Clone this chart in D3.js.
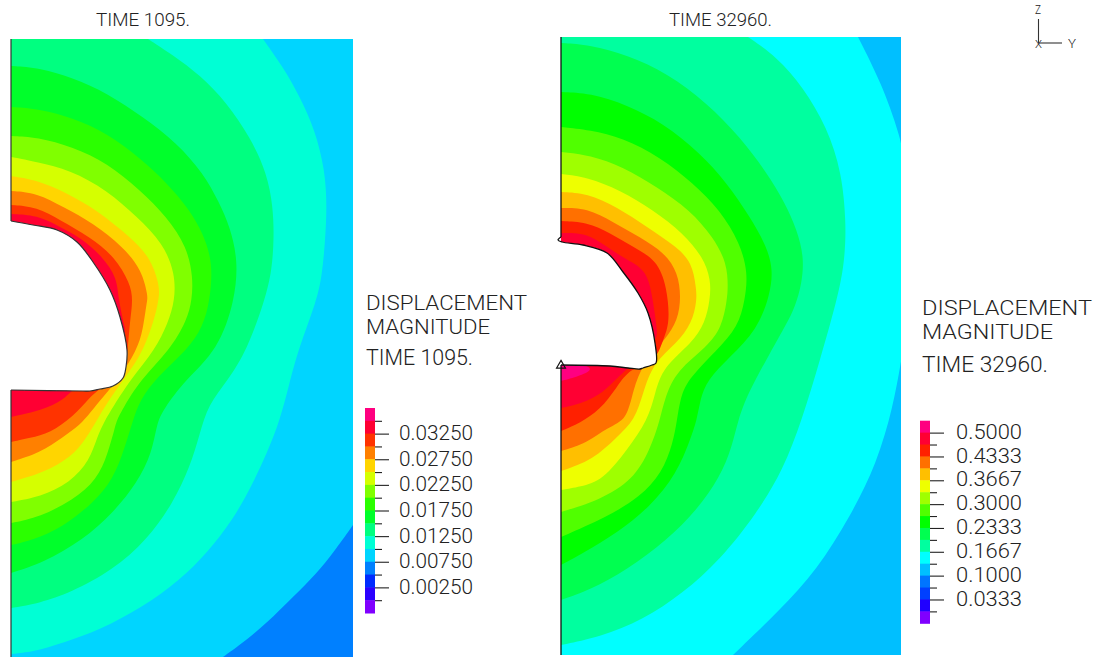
<!DOCTYPE html>
<html><head><meta charset="utf-8">
<script src="https://cdnjs.cloudflare.com/ajax/libs/d3/7.8.5/d3.min.js"></script>
<style>html,body{margin:0;background:#fff}svg{display:block}text{font-family:Roboto,"Liberation Sans",sans-serif;font-weight:300;fill:#222}</style>
</head><body><svg id="c" width="1103" height="659"></svg>
<script>
// Model extents (reading units along the Y and Z axes of each mesh)
const leftExtent=[342,618], rightExtent=[340,618];

// ----- left panel, TIME 1095. Iso-lines, outermost to innermost, [y,z]
const leftBase="#0080ff";
const leftBandColors=["#00d5ff","#00ffd5","#00ff80","#00ff2b","#2bff00","#80ff00","#d5ff00","#ffd500","#ff8000","#ff3300","#ff0033"];
const leftIso0=[[342,132],[322,104],[306,84],[282,60],[256,34],[229,12],[212,0]];
const leftIso1=[[252,618],[272,590],[289,560],[304,527],[314,487],[316,450],[314,414],[311,382],[306,357],[287,307],[278,272],[269,237],[256,204],[242,174],[222,137],[196,104],[169,77],[132,50],[89,27],[52,14],[22,5],[0,3]];
const leftIso2=[[137,618],[162,602],[189,582],[216,554],[239,520],[256,484],[262,450],[263,420],[261,387],[254,357],[236,307],[217,277],[197,252],[189,224],[179,190],[162,154],[136,117],[102,87],[59,64],[29,54],[0,49]];
const leftIso3=[[0,591],[29,589],[62,579],[96,564],[132,540],[166,514],[192,484],[208,455],[219,430],[227,397],[224,357],[207,307],[174,277],[152,247],[146,234],[141,204],[126,174],[102,144],[72,117],[32,94],[0,84]];
const leftIso4=[[0,550],[29,548],[62,539],[96,524],[129,499],[156,474],[178,448],[192,424],[202,394],[199,357],[192,330],[176,307],[146,280],[129,257],[122,237],[114,210],[102,177],[82,154],[52,130],[22,117],[0,112]];
const leftIso5=[[0,521],[26,520],[62,510],[96,494],[129,467],[156,440],[176,410],[182,380],[181,357],[176,337],[159,307],[129,277],[111,247],[106,237],[104,230],[97,204],[86,177],[62,157],[29,140],[0,134]];
const leftIso6=[[0,500],[26,495],[59,487],[96,467],[126,440],[152,414],[164,384],[164,357],[157,334],[144,307],[119,277],[102,250],[94,237],[86,220],[79,197],[59,174],[29,160],[0,155]];
const leftIso7=[[0,481],[26,477],[56,464],[86,447],[119,420],[139,400],[148,374],[149,357],[134,307],[112,277],[96,254],[86,237],[76,220],[61,200],[32,184],[0,175]];
const leftIso8=[[0,466],[26,464],[52,450],[82,434],[112,410],[131,387],[137,360],[136,357],[132,327],[126,307],[107,277],[92,260],[79,244],[69,232],[52,220],[29,204],[0,195]];
const leftIso9=[[0,452],[26,450],[49,437],[79,420],[104,400],[119,374],[122,357],[119,337],[117,310],[114,285],[87,267],[79,260],[62,240],[39,224],[19,219],[0,215]];
const leftIso10=[[0,443],[26,442],[49,430],[69,420],[92,400],[106,379],[107,360],[114,327],[116,322],[62,267],[52,257],[32,247],[0,240]];
const leftHole=[[0,436],[22,432],[46,427],[66,415],[82,395],[99,367],[109,340],[116,307],[115,290],[112,279],[102,271],[89,268],[79,266],[72,266],[0,267]];

// ----- right panel, TIME 32960.
const rightBase="#00bfff";
const rightBandColors=["#00ffff","#00ff9f","#00ff50","#00ff00","#50ff00","#9fff00","#eeff00","#ffbf00","#ff7000","#ff2000","#ff0033","#ff0080"];
const rightIso0=[[297,618],[319,575],[340,518],[346,480],[346,330],[340,293],[332,248],[316,192],[289,138],[256,85],[219,45],[172,0]];
const rightIso1=[[187,618],[216,598],[242,568],[266,528],[281,482],[285,432],[284,405],[282,385],[276,355],[259,295],[241,235],[222,185],[196,142],[159,95],[122,62],[82,35],[39,18],[0,10]];
const rightIso2=[[0,612],[29,610],[66,600],[106,582],[146,552],[179,518],[206,482],[224,452],[236,425],[243,398],[241,372],[234,348],[226,332],[209,302],[187,262],[177,235],[171,208],[159,178],[136,145],[106,115],[66,85],[29,65],[0,55]];
const rightIso3=[[0,563],[29,562],[66,550],[102,532],[139,502],[166,472],[189,438],[206,408],[212,385],[209,360],[196,325],[169,298],[146,275],[139,255],[136,235],[129,215],[116,182],[89,148],[56,122],[22,102],[0,90]];
const rightIso4=[[0,528],[29,525],[62,517],[99,498],[132,472],[159,445],[179,412],[187,382],[184,355],[177,328],[156,305],[126,275],[119,255],[116,235],[112,212],[101,182],[79,158],[46,138],[0,118]];
const rightIso5=[[0,503],[29,500],[62,488],[96,468],[129,445],[152,418],[166,392],[167,368],[166,355],[161,328],[146,308],[116,285],[104,258],[99,235],[89,205],[72,175],[39,155],[0,143]];
const rightIso6=[[0,481],[26,478],[59,465],[92,445],[122,422],[142,398],[150,375],[149,355],[144,332],[131,312],[102,288],[94,262],[87,235],[66,205],[42,175],[19,168],[0,165]];
const rightIso7=[[0,463],[26,462],[56,448],[86,428],[116,408],[131,392],[135,368],[136,355],[131,332],[116,312],[92,292],[82,262],[74,235],[56,218],[32,195],[0,184]];
const rightIso8=[[0,447],[26,447],[52,433],[79,418],[104,402],[117,382],[120,358],[117,335],[104,315],[82,292],[72,265],[66,235],[47,228],[26,212],[0,204]];
const rightIso9=[[0,434],[26,433],[49,422],[72,408],[96,395],[106,368],[109,332],[102,315],[94,292],[69,287],[56,268],[39,245],[19,232],[0,224]];
const rightIso10=[[0,422],[26,422],[46,408],[66,395],[86,385],[92,355],[96,325],[97,315],[62,282],[57,278],[42,262],[22,252],[0,247]];
const rightIso11=[[0,295],[36,288],[22,280],[0,274]];
const rightHole=[[0,418],[-3,415],[1,413],[22,410],[46,402],[62,383],[77,362],[87,342],[94,312],[95,292],[91,290],[82,287],[79,286],[67,287],[49,289],[0,290]];

// ----- legends
const leftLegendColors=["#ff0080","#ff0033","#ff3300","#ff8000","#ffd500","#d5ff00","#80ff00","#2bff00","#00ff2b","#00ff80","#00ffd5","#00d5ff","#0080ff","#002bff","#2b00ff","#8000ff"];
const leftMajorTicks=[0.0325,0.0275,0.0225,0.0175,0.0125,0.0075,0.0025];
const leftMinorTicks=[0.035,0.03,0.025,0.02,0.015,0.01,0.005,0];
const rightLegendColors=["#ff0080","#ff0033","#ff2000","#ff7000","#ffbf00","#eeff00","#9fff00","#50ff00","#00ff00","#00ff50","#00ff9f","#00ffff","#00bfff","#0075ff","#0040ff","#2000ff","#8000ff"];
const rightMajorTicks=[0.5,0.4333,0.3667,0.3,0.2333,0.1667,0.1,0.0333];
const rightMinorTicks=[0.4667,0.4,0.3333,0.2667,0.2,0.1333,0.0667,0];

const svg=d3.select("#c");

function drawMesh(id,box,extent,base,colors,isos,hole,strokeEdge,edgeColor){
  const x=d3.scaleLinear().domain([0,extent[0]]).range([box.x0,box.x1]);
  const y=d3.scaleLinear().domain([0,extent[1]]).range([box.y1,box.y0]);
  svg.append("clipPath").attr("id",id).append("rect")
    .attr("x",box.x0).attr("y",box.y0).attr("width",box.x1-box.x0).attr("height",box.y1-box.y0);
  const g=svg.append("g").attr("clip-path",`url(#${id})`);
  g.append("rect").attr("x",box.x0).attr("y",box.y0).attr("width",box.x1-box.x0).attr("height",box.y1-box.y0).attr("fill",base);
  const curve=d3.line().x(d=>x(d[0])).y(d=>y(d[1])).curve(d3.curveBasis);
  isos.forEach((iso,i)=>{
    const first=iso[0], last=iso[iso.length-1], close=[];
    if(last[1]===0) close.push([0,0]);
    if(first[1]===extent[1]||first[0]===extent[0]) close.push([0,extent[1]]);
    if(first[0]===extent[0]) close.push([extent[0],extent[1]]);
    const d=curve(iso)+close.map(p=>`L${x(p[0])},${y(p[1])}`).join("")+"Z";
    g.append("path").attr("d",d).attr("fill",colors[i]);
  });
  const hl=d3.line().x(d=>x(d[0])).y(d=>y(d[1]));
  const wl=d3.line().x(d=>x(d[0])).y(d=>y(d[1])).curve(d3.curveCatmullRom.alpha(0.5));
  g.append("path").attr("d",wl(hole)+"Z").attr("fill","#fff");
  const o=svg.append("g").attr("fill","none").attr("stroke",edgeColor);
  o.append("path").attr("d",wl(hole)).attr("stroke-width",strokeEdge);
  o.append("path").attr("d",hl([[0,extent[1]],hole[0]])).attr("stroke-width",strokeEdge);
  o.append("path").attr("d",hl([hole[hole.length-1],[0,0]])).attr("stroke-width",strokeEdge);
  return {x,y};
}

drawMesh("clipL",{x0:11,x1:353,y0:39,y1:657},leftExtent,leftBase,leftBandColors,
  [leftIso0,leftIso1,leftIso2,leftIso3,leftIso4,leftIso5,leftIso6,leftIso7,leftIso8,leftIso9,leftIso10],leftHole,1.2,"#333");
const R=drawMesh("clipR",{x0:561,x1:901,y0:37,y1:655},rightExtent,rightBase,rightBandColors,
  [rightIso0,rightIso1,rightIso2,rightIso3,rightIso4,rightIso5,rightIso6,rightIso7,rightIso8,rightIso9,rightIso10,rightIso11],rightHole,1.3,"#111");
// support symbol at the loaded node of the right mesh
const tri=d3.symbol().type(d3.symbolTriangle).size(34);
svg.append("path").attr("d",tri()).attr("transform",`translate(${R.x(0)},${R.y(290)+0.5})`)
  .attr("fill","none").attr("stroke","#111").attr("stroke-width",1.2);

function drawLegend(box,colors,major,minor,fmt,top,step,labelX,labelLen,size){
  const bottom=top-step*colors.length;
  const s=d3.scaleLinear().domain([top,bottom]).range([box.y0,box.y1]);
  const g=svg.append("g");
  g.selectAll("rect").data(colors).join("rect")
    .attr("x",box.x0).attr("width",box.x1-box.x0)
    .attr("y",(d,i)=>s(top-step*i)).attr("height",(d,i)=>s(top-step*(i+1))-s(top-step*i)+0.5)
    .attr("fill",d=>d);
  const mk=(vals,len,showLab)=>{
    const a=d3.axisRight(s).tickValues(vals).tickSize(len).tickFormat(showLab?fmt:"");
    const ag=svg.append("g").attr("transform",`translate(${box.x1},0)`).call(a);
    ag.select(".domain").remove();
    ag.selectAll("line").attr("stroke","#222").attr("stroke-width",1.1);
    ag.selectAll("text").attr("x",labelX-box.x1).attr("font-size",size).attr("dy","0.28em")
      .attr("textLength",labelLen).attr("lengthAdjust","spacingAndGlyphs").style("font-family",'Roboto,"Liberation Sans",sans-serif').style("font-weight",300).attr("fill","#222");
  };
  mk(minor,7,false); mk(major,14,true);
}
drawLegend({x0:365,x1:375,y0:408,y1:613},leftLegendColors,leftMajorTicks,leftMinorTicks,d3.format(".5f"),0.0375,0.0025,399,74,21);
drawLegend({x0:920,x1:930,y0:420.7,y1:623.3},rightLegendColors,rightMajorTicks,rightMinorTicks,d3.format(".4f"),0.53333,0.033333,956,66,20);

const labelRows=[
 ["TIME 1095.",96,26,94,18],["TIME 32960.",669,26,103,18],
 ["DISPLACEMENT",366,310,161,20],["MAGNITUDE",366,334,124,20],["TIME 1095.",366,365,107,22],
 ["DISPLACEMENT",922,315,170,20],["MAGNITUDE",922,339,131,20],["TIME 32960.",922,372,126,22],
 ["Z",1035,14,6,12],["Y",1068,48,8,12],["X",1035,48,7,11]];
svg.append("g").selectAll("text").data(labelRows).join("text")
  .attr("x",d=>d[1]).attr("y",d=>d[2]).attr("textLength",d=>d[3]).attr("lengthAdjust","spacingAndGlyphs")
  .attr("font-size",d=>d[4]).text(d=>d[0]);

// coordinate triad
const triad=d3.line();
const triadZ=[[1038.5,19],[1038.5,43]], triadY=[[1038.5,43],[1062,43]];
svg.append("g").attr("fill","none").attr("stroke","#333").attr("stroke-width",1.1)
  .selectAll("path").data([triadZ,triadY]).join("path").attr("d",triad);
</script></body></html>
